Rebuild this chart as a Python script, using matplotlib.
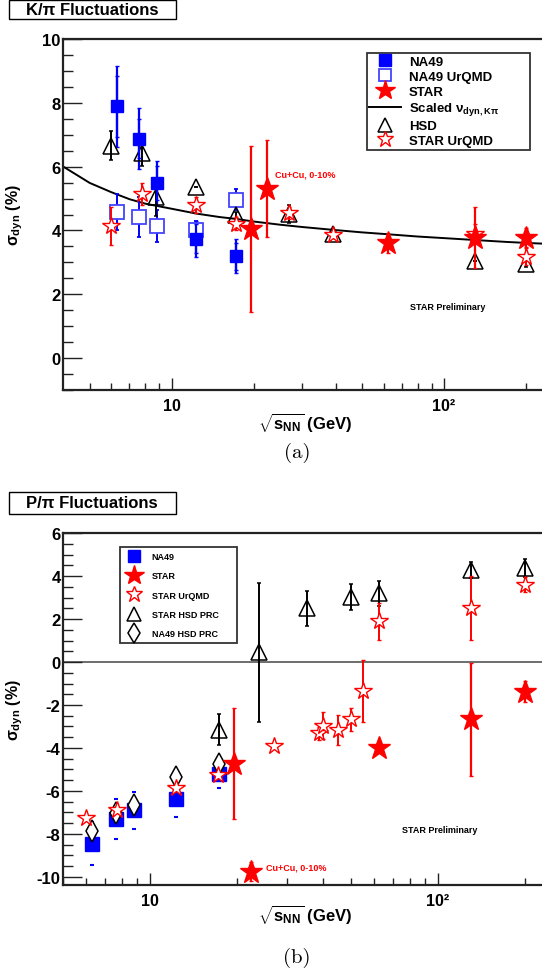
import matplotlib
matplotlib.use("Agg")
import matplotlib.pyplot as plt
from matplotlib.patches import Rectangle
from matplotlib.lines import Line2D
from matplotlib.ticker import FixedLocator, MultipleLocator, NullFormatter, FuncFormatter

plt.rcParams["font.family"] = ["Liberation Sans", "DejaVu Sans"]
plt.rcParams["font.weight"] = "bold"
plt.rcParams["axes.unicode_minus"] = False
plt.rcParams["mathtext.fontset"] = "custom"
plt.rcParams["mathtext.rm"] = "Liberation Sans:bold"
plt.rcParams["mathtext.bf"] = "Liberation Sans:bold"
plt.rcParams["mathtext.it"] = "Liberation Sans:bold"
plt.rcParams["mathtext.sf"] = "Liberation Sans:bold"

BLUE = "#0000ff"
RED = "#ff0000"

# ================= K/pi DATA =================

na49_x = [6.3, 7.6, 8.8, 12.3, 17.3]
na49_y = [7.89, 6.88, 5.49, 3.74, 3.19]
na49_stat = [0.95, 0.6, 0.52, 0.45, 0.42]
na49_sys = [1.27, 0.95, 0.7, 0.57, 0.53]

na49_urqmd_x = [6.3, 7.6, 8.8, 12.3, 17.3]
na49_urqmd_y = [4.57, 4.42, 4.15, 4.0, 4.96]
na49_urqmd_err = [0.56, 0.62, 0.5, 0.3, 0.33]

star_kp_x = [19.6, 22.4, 62.4, 130, 200]
star_kp_y = [4.05, 5.31, 3.6, 3.77, 3.77]
star_kp_err = [2.6, 1.52, 0.3, 0.95, 0.3]

scaled_x = [4, 5, 6, 7, 8, 10, 12.3, 15, 17.3, 20, 25, 30, 39, 50, 62.4, 80, 100, 130, 170, 200, 240]
scaled_y = [6.0, 5.49, 5.2, 4.98, 4.84, 4.68, 4.53, 4.42, 4.36, 4.28, 4.18, 4.11, 4.02, 3.94, 3.88,
            3.81, 3.76, 3.7, 3.64, 3.61, 3.58]

hsd_x = [6.0, 7.75, 8.75, 12.3, 17.3, 27, 39, 130, 200]
hsd_y = [6.66, 6.42, 5.04, 5.36, 4.47, 4.52, 3.9, 3.05, 2.94]
hsd_err = [0.45, 0.4, 0.6, 0.0, 0.12, 0.28, 0.1, 0.0, 0.1]

star_urqmd_kp_x = [6.0, 7.75, 12.3, 17.3, 27, 39, 130, 200]
star_urqmd_kp_y = [4.13, 5.15, 4.8, 4.21, 4.55, 3.86, 3.9, 3.18]
star_urqmd_kp_err = [0.6, 0.35, 0.25, 0.2, 0.2, 0.1, 0.3, 0.27]

# ================= P/pi DATA =================

na49_pp_x = [6.3, 7.6, 8.8, 12.3, 17.3]
na49_pp_y = [-8.47, -7.3, -6.91, -6.36, -5.2]
na49_pp_err = [1.0, 0.92, 0.87, 0.85, 0.65]

star_pp_x = [19.6, 22.4, 62.4, 130, 200]
star_pp_y = [-4.73, -9.77, -3.98, -2.67, -1.37]
star_pp_err = [2.6, 0.45, 0.2, 2.63, 0.47]

star_urqmd_pp_x = [6.0, 7.7, 12.3, 17.2, 27, 38.7, 40, 44.9, 50, 54.7, 62.4, 130, 200]
star_urqmd_pp_y = [-7.25, -6.88, -5.85, -5.24, -3.9, -3.32, -2.96, -3.17, -2.67, -1.33, 1.9, 2.52, 3.61]
star_urqmd_pp_err = [0.1, 0.1, 0.1, 0.1, 0.1, 0.3, 0.62, 0.7, 0.55, 1.45, 0.87, 1.5, 0.35]

star_hsd_x = [17.3, 24, 35, 50, 62.4, 130, 200]
star_hsd_y = [-3.14, 0.45, 2.5, 3.02, 3.2, 4.29, 4.38]
star_hsd_err = [0.72, 3.23, 0.8, 0.6, 0.6, 0.35, 0.4]

na49_hsd_x = [6.3, 7.6, 8.8, 12.3, 17.3]
na49_hsd_y = [-7.88, -7.04, -6.68, -5.35, -4.73]

fig = plt.figure(figsize=(5.42, 9.79), dpi=100)
W, H = 542.0, 979.0


def make_axes(top_px, bottom_px):
    left_px, right_px = 63.3, 548.0
    return fig.add_axes([left_px / W, 1 - bottom_px / H, (right_px - left_px) / W, (bottom_px - top_px) / H])


def style_axes(ax):
    ax.set_xscale("log")
    for s in ["left", "bottom", "top"]:
        ax.spines[s].set_linewidth(1.6)
        ax.spines[s].set_color("#222222")
    ax.spines["right"].set_visible(False)
    ax.xaxis.set_major_locator(FixedLocator([10, 100]))
    ax.xaxis.set_major_formatter(FuncFormatter(lambda v, p: "10" if v < 50 else "10²"))
    ax.xaxis.set_minor_locator(FixedLocator([5, 6, 7, 8, 9, 20, 30, 40, 50, 60, 70, 80, 90, 200]))
    ax.xaxis.set_minor_formatter(NullFormatter())
    ax.tick_params(axis="both", which="both", direction="in", top=False, right=False, color="#222222")
    ax.tick_params(axis="x", which="major", length=9, width=1.0, pad=6, labelsize=11.5)
    ax.tick_params(axis="x", which="minor", length=5, width=1.0)
    ax.tick_params(axis="y", which="major", length=14, width=1.0, pad=2, labelsize=12)
    ax.tick_params(axis="y", which="minor", length=7, width=1.0)
    ax.yaxis.set_minor_locator(MultipleLocator(0.5))
    ax.yaxis.set_major_locator(MultipleLocator(2))
    ax.set_ylabel(r"$\sigma_{\mathbf{dyn}}$ (%)", fontsize=11.5, fontweight="bold")
    ax.set_xlabel(r"$\sqrt{\mathbf{s_{NN}}}$ (GeV)", fontsize=12, fontweight="bold")
    ax.yaxis.set_label_coords(-0.079, 0.5)


def title_box(text, top_px, bottom_px):
    fig.patches.append(Rectangle((9 / W, 1 - bottom_px / H), 167 / W, (bottom_px - top_px) / H,
                                 transform=fig.transFigure, fill=False, edgecolor="black", linewidth=1.0))
    fig.text(92 / W, 1 - (top_px + bottom_px) / 2 / H, text, ha="center", va="center",
             fontsize=12, fontweight="bold")


# ================= K/pi PANEL =================

ax1 = make_axes(40, 391)
style_axes(ax1)
ax1.set_xlim(4, 241)
ax1.set_ylim(-1, 10)
ax1.xaxis.set_label_coords(0.5, -0.06)

ax1.plot(scaled_x, scaled_y, color="black", lw=1.4, zorder=2)

ax1.errorbar(na49_x, na49_y, yerr=na49_sys, fmt="none", ecolor=BLUE, elinewidth=1.6, capsize=1.5, zorder=3)
ax1.errorbar(na49_x, na49_y, yerr=na49_stat, fmt="s", color=BLUE, ms=9, elinewidth=1.6, capsize=1.5, zorder=4)
ax1.errorbar(na49_urqmd_x, na49_urqmd_y, yerr=na49_urqmd_err, fmt="s", mfc="white", mec="#4444ff",
             mew=1.3, ms=10, ecolor=BLUE, elinewidth=1.4, capsize=1.5, zorder=3)
ax1.errorbar(hsd_x, hsd_y, yerr=hsd_err, fmt="^", mfc="none", mec="black", mew=1.1, ms=11,
             ecolor="black", elinewidth=1.4, capsize=1.5, zorder=3)
ax1.errorbar(star_urqmd_kp_x, star_urqmd_kp_y, yerr=star_urqmd_kp_err, fmt="*", mfc="white", mec=RED,
             mew=1.0, ms=13, ecolor=RED, elinewidth=1.4, capsize=1.5, zorder=4)
ax1.errorbar(star_kp_x, star_kp_y, yerr=star_kp_err, fmt="*", color=RED, ms=17, elinewidth=1.6,
             capsize=1.5, zorder=5)

ax1.text(24, 5.78, "Cu+Cu, 0-10%", color=RED, fontsize=6.5, fontweight="bold", va="center")
ax1.text(75, 1.63, "STAR Preliminary", color="black", fontsize=6.5, fontweight="bold", va="center")

h1 = [
    Line2D([], [], ls="none", marker="s", color=BLUE, ms=9),
    Line2D([], [], ls="none", marker="s", mfc="white", mec="#4444ff", mew=1.3, ms=9),
    Line2D([], [], ls="none", marker="*", color=RED, ms=15),
    Line2D([], [], color="black", lw=1.4),
    Line2D([], [], ls="none", marker="^", mfc="none", mec="black", mew=1.1, ms=10),
    Line2D([], [], ls="none", marker="*", mfc="white", mec=RED, mew=1.0, ms=12),
]
l1 = ["NA49", "NA49 UrQMD", "STAR", r"Scaled $\nu_{\mathbf{dyn,K\pi}}$", "HSD", "STAR UrQMD"]
leg1 = ax1.legend(h1, l1, loc="upper left", bbox_to_anchor=(0.626, 0.69, 0.337, 0.27), mode="expand",
                  prop={"weight": "bold", "size": 9.5}, frameon=True, fancybox=False,
                  edgecolor="black", borderpad=0.2, labelspacing=0.2, handlelength=2.4,
                  handletextpad=0.6, borderaxespad=0)
leg1.get_frame().set_linewidth(1.3)

# ================= P/pi PANEL =================

ax2 = make_axes(534.3, 885.7)
style_axes(ax2)
ax2.set_xlim(5, 241)
ax2.set_ylim(-10.37, 6)
ax2.xaxis.set_label_coords(0.5, -0.052)
ax2.axhline(0, color="#555555", lw=1.2, zorder=1)

ax2.errorbar(na49_pp_x, na49_pp_y, yerr=na49_pp_err, fmt="s", color=BLUE, ms=10, elinewidth=0,
             capsize=1.5, capthick=1.5, zorder=3)
ax2.plot(na49_hsd_x, na49_hsd_y, ls="none", marker="d", mfc="white", mec="black", mew=1.1, ms=11, zorder=4)
ax2.errorbar(star_hsd_x, star_hsd_y, yerr=star_hsd_err, fmt="^", mfc="none", mec="black", mew=1.1,
             ms=11, ecolor="black", elinewidth=1.4, capsize=1.5, zorder=3)
ax2.errorbar(star_urqmd_pp_x, star_urqmd_pp_y, yerr=star_urqmd_pp_err, fmt="*", mfc="white", mec=RED,
             mew=1.0, ms=13, ecolor=RED, elinewidth=1.4, capsize=1.5, zorder=4)
ax2.errorbar(star_pp_x, star_pp_y, yerr=star_pp_err, fmt="*", color=RED, ms=17, elinewidth=1.6,
             capsize=1.5, zorder=5)

ax2.text(25.2, -9.56, "Cu+Cu, 0-10%", color=RED, fontsize=6.5, fontweight="bold", va="center")
ax2.text(75, -7.82, "STAR Preliminary", color="black", fontsize=6.5, fontweight="bold", va="center")

h2 = [
    Line2D([], [], ls="none", marker="s", color=BLUE, ms=9),
    Line2D([], [], ls="none", marker="*", color=RED, ms=15),
    Line2D([], [], ls="none", marker="*", mfc="white", mec=RED, mew=1.0, ms=12),
    Line2D([], [], ls="none", marker="^", mfc="none", mec="black", mew=1.1, ms=10),
    Line2D([], [], ls="none", marker="d", mfc="none", mec="black", mew=1.1, ms=10),
]
l2 = ["NA49", "STAR", "STAR UrQMD", "STAR HSD PRC", "NA49 HSD PRC"]
leg2 = ax2.legend(h2, l2, loc="upper left", bbox_to_anchor=(0.117, 0.685, 0.241, 0.275), mode="expand",
                  prop={"weight": "bold", "size": 6.5}, frameon=True, fancybox=False,
                  edgecolor="black", borderpad=0.5, labelspacing=1.15, handlelength=2.2,
                  handletextpad=0.8, borderaxespad=0)
leg2.get_frame().set_linewidth(1.3)

# ================= TITLES AND CAPTIONS =================

title_box("K/π Fluctuations", 1, 20)
title_box("P/π Fluctuations", 493, 515)
fig.text(297 / W, 1 - 453 / H, "(a)", family="cmr10", fontsize=15, fontweight="normal",
         ha="center", va="center")
fig.text(297 / W, 1 - 958 / H, "(b)", family="cmr10", fontsize=15, fontweight="normal",
         ha="center", va="center")

fig.savefig("out.png", dpi=100)
